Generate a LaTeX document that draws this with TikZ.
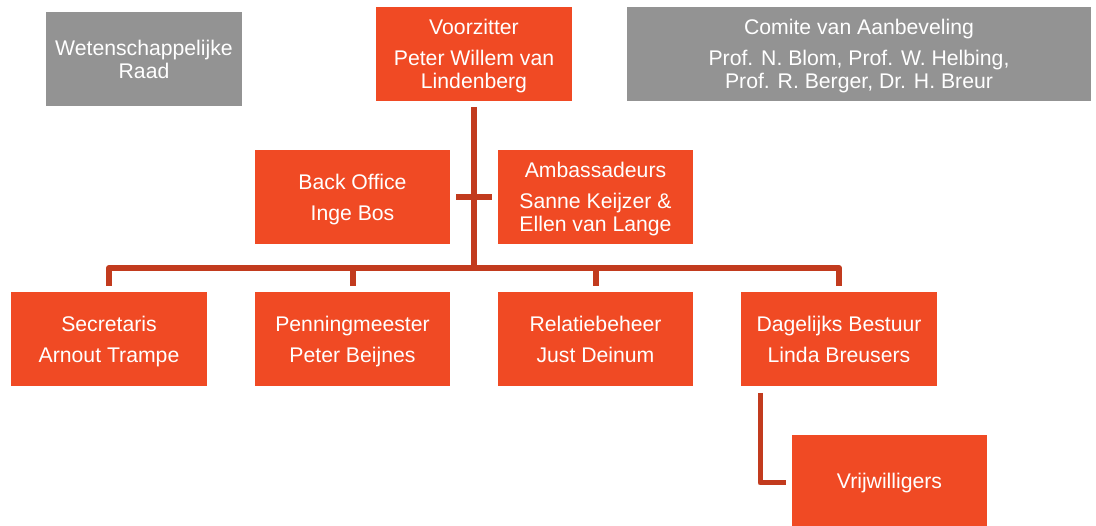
\documentclass[tikz,border=0pt]{standalone}
\usepackage{fontspec}
\setmainfont{Liberation Sans}
\definecolor{boxorange}{HTML}{F04A24}
\definecolor{boxgray}{HTML}{939393}
\definecolor{linered}{HTML}{C23B1E}
\begin{document}
\begin{tikzpicture}[x=1pt,y=1pt,
  box/.style={fill=#1, draw=none, text=white, align=center, inner sep=0pt,
    text depth=0pt, font=\fontsize{21.2}{23.3}\selectfont},
  obox/.style={box=boxorange},
  gbox/.style={box=boxgray},
  conn/.style={draw=linered, line width=6pt, line join=round}]
\useasboundingbox (0,0) rectangle (1096,-526);
\node[gbox, minimum width=196, minimum height=94] (wr) at (144,-59) {Wetenschappelijke\\Raad};
\node[obox, minimum width=196, minimum height=94] (vz) at (474,-54) {Voorzitter\\[7.5pt]Peter Willem van\\Lindenberg};
\node[gbox, minimum width=464, minimum height=94] (ca) at (859,-54) {Comite van Aanbeveling\\[7.5pt]Prof. N. Blom, Prof. W. Helbing,\\Prof. R. Berger, Dr. H. Breur};
\node[obox, minimum width=195, minimum height=94] (bo) at (352.5,-197) {Back Office\\[7.5pt]Inge Bos};
\node[obox, minimum width=195, minimum height=94] (am) at (595.5,-197) {Ambassadeurs\\[7.5pt]Sanne Keijzer \&\\Ellen van Lange};
\node[obox, minimum width=196, minimum height=94] (se) at (109,-339) {Secretaris\\[7.5pt]Arnout Trampe};
\node[obox, minimum width=195, minimum height=94] (pm) at (352.5,-339) {Penningmeester\\[7.5pt]Peter Beijnes};
\node[obox, minimum width=195, minimum height=94] (rb) at (595.5,-339) {Relatiebeheer\\[7.5pt]Just Deinum};
\node[obox, minimum width=196, minimum height=94] (db) at (839,-339) {Dagelijks Bestuur\\[7.5pt]Linda Breusers};
\node[obox, minimum width=195, minimum height=91] (vw) at (889.5,-480.5) {Vrijwilligers};
% connectors
\coordinate (bus) at (474,-268);
\coordinate (stubL) at (456,-197);
\coordinate (stubR) at (492,-197);
\draw[conn] ([yshift=-6pt]vz.south) -- (bus);
\draw[conn] (stubL) -- (stubR);
\draw[conn] ([yshift=6pt]se.north) -- (se.north |- bus) -- (db.north |- bus) -- ([yshift=6pt]db.north);
\draw[conn] (pm.north |- bus) -- ([yshift=6pt]pm.north);
\draw[conn] (rb.north |- bus) -- ([yshift=6pt]rb.north);
\coordinate (vwturn) at (760,-483);
\draw[conn, line width=5pt] (760,-393) coordinate (vwtop) -- (vwturn) -- ([xshift=-6pt]vw.west |- vwturn);
\end{tikzpicture}
\end{document}
